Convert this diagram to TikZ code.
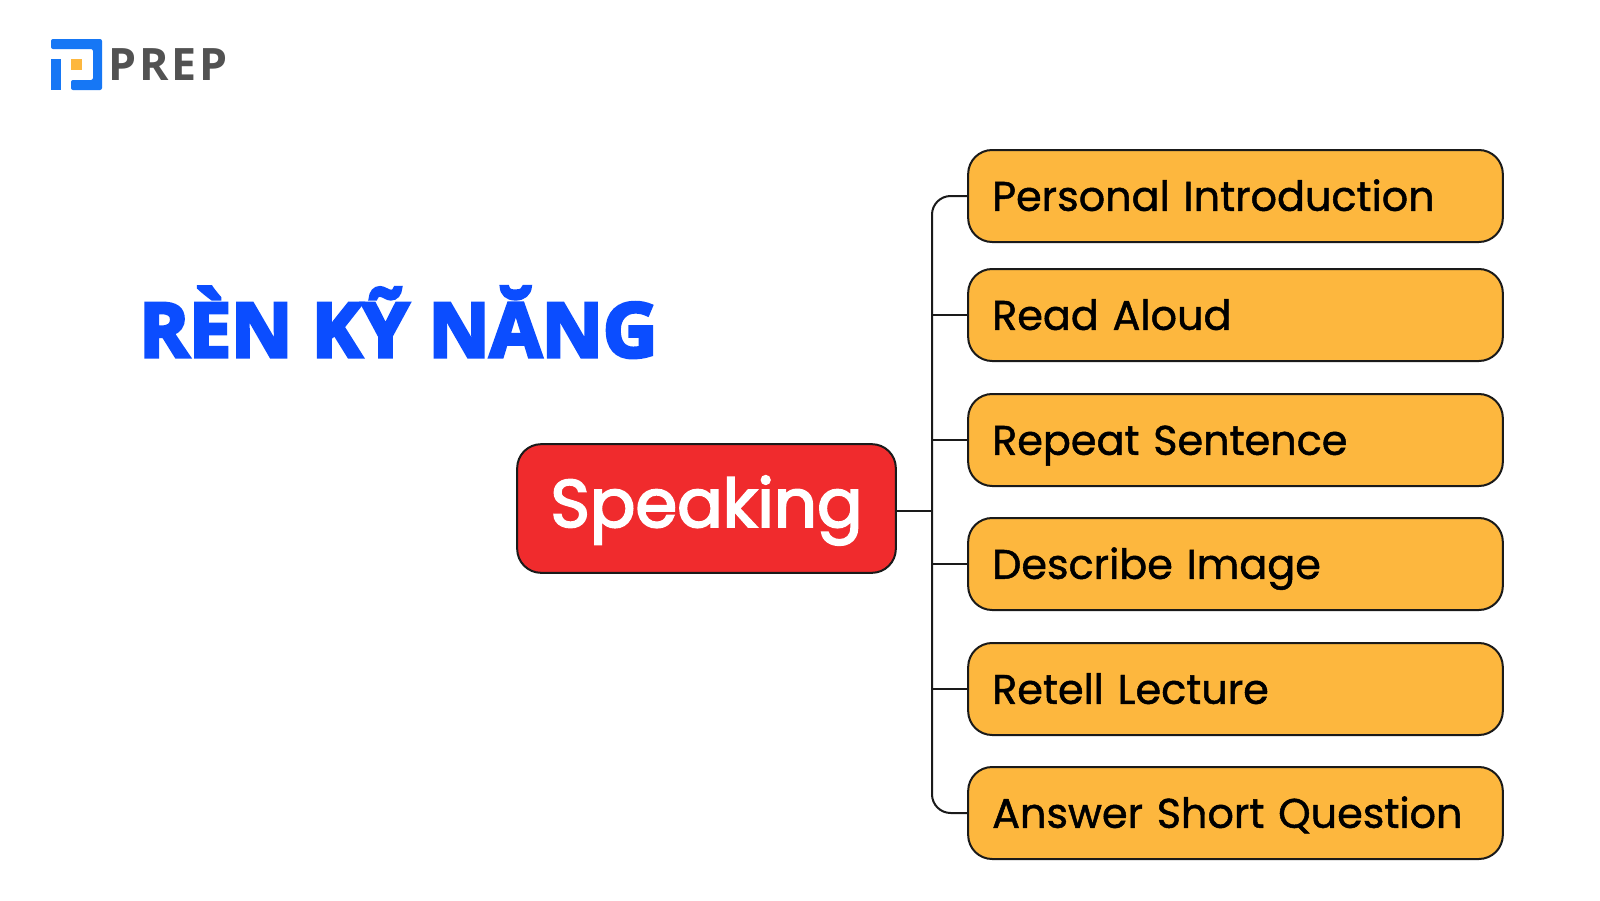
\documentclass[tikz,border=0pt]{standalone}
\usepackage{fontspec}
\setmainfont{Poppins}
\newfontfamily\ttlfont{Open Sans}[RawFeature={embolden=4.5}]
\newfontfamily\logofont{Open Sans}[LetterSpace=6.5]
\newfontfamily\boxfont{Poppins}[RawFeature={embolden=1.2}]
\newfontfamily\rootfont{Poppins}[RawFeature={embolden=2.8}]
\usetikzlibrary{positioning}
\definecolor{prepblue}{HTML}{1677F5}
\definecolor{prepor}{HTML}{FDB73E}
\definecolor{prepred}{HTML}{F02B2D}
\definecolor{ttlblue}{HTML}{0B4DFF}
\definecolor{inkc}{HTML}{1A1A1A}
\tikzset{
  x=0.75pt,y=-0.75pt,
  skillbox/.style={draw=inkc,line width=1.5pt,fill=prepor,rounded corners=18pt,
    minimum width=401pt,minimum height=69pt,inner sep=0pt,text width=365pt,align=left,
    text height=30.2pt,text depth=8pt,font=\boxfont\fontsize{31}{36}\selectfont,text=black},
  rootbox/.style={draw=inkc,line width=1.5pt,fill=prepred,rounded corners=18pt,
    minimum width=284pt,minimum height=96.5pt,inner sep=0pt,text height=41.8pt,text depth=14pt,
    font=\rootfont\fontsize{50.5}{60}\selectfont,text=white},
  link/.style={draw=inkc,line width=1.5pt}
}
\begin{document}
\begin{tikzpicture}
\useasboundingbox (0,0) rectangle (1600,900);
\fill[white] (0,0) rectangle (1600,900);
% logo
\fill[prepblue,rounded corners=1.5pt] (51,39)--(102,39)--(102,90)--(71,90)--(71,80)--(93,80)--(93,49)--(51,49)--cycle;
\fill[prepblue] (51,59) rectangle (61,90);
\fill[prepor] (71,59) rectangle (82,70);
\node[anchor=west,inner sep=0pt,text=black!68,font=\logofont\bfseries\fontsize{33.5}{38}\selectfont] (logo) at (108,64.5) {PREP};
% title
\node[anchor=base west,inner sep=0pt,text=ttlblue,font=\ttlfont\bfseries\fontsize{56.5}{68}\selectfont] (title) at (139,357) {RÈN KỸ NĂNG};
% nodes
\node[rootbox] (root) at (706.5,508.5) {Speaking};
\node[skillbox] (s1) at (1235.5,196) {Personal Introduction};
\node[skillbox] (s2) at (1235.5,315) {Read Aloud};
\node[skillbox] (s3) at (1235.5,440) {Repeat Sentence};
\node[skillbox] (s4) at (1235.5,564) {Describe Image};
\node[skillbox] (s5) at (1235.5,689) {Retell Lecture};
\node[skillbox] (s6) at (1235.5,813) {Answer Short Question};
% connectors
\coordinate (tr1) at (932,196);
\coordinate (tr6) at (932,813);
\coordinate (tm) at (932,511);
\draw[link,rounded corners=14pt] (s1.west) -- (tr1) -- (tr6) -- (s6.west);
\draw[link] (root.east |- tm) -- (tm);
\foreach \n in {s2,s3,s4,s5}{\draw[link] (\n.west) -- (tm |- \n.west);}
\end{tikzpicture}
\end{document}
